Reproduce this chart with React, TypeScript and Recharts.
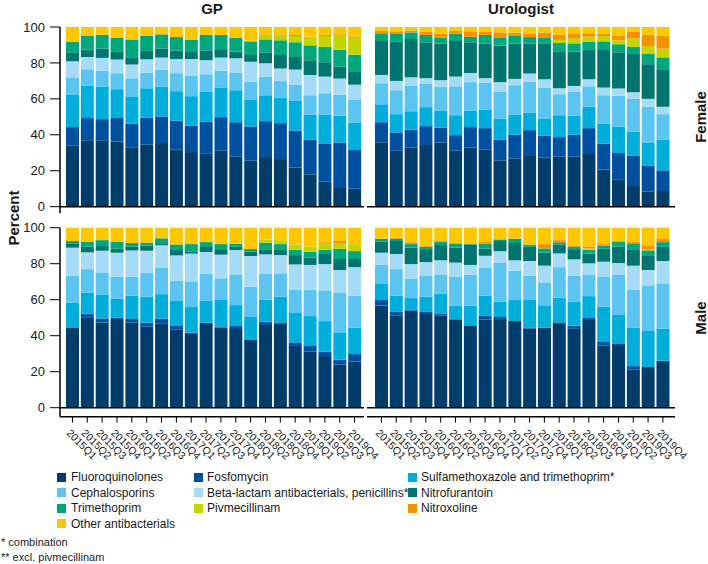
import React from "react";
import { Bar, BarChart, ReferenceLine, XAxis, YAxis } from "recharts";

// Antibiotic prescriptions per quarter, GP vs urologist, split by sex.
// Each panel is a 100% stacked bar per quarter.

const quarters = [
  "2015Q1", "2015Q2", "2015Q3", "2015Q4",
  "2016Q1", "2016Q2", "2016Q3", "2016Q4",
  "2017Q1", "2017Q2", "2017Q3", "2017Q4",
  "2018Q1", "2018Q2", "2018Q3", "2018Q4",
  "2019Q1", "2019Q2", "2019Q3", "2019Q4",
];

const seriesNames = [
  "Fluoroquinolones",
  "Fosfomycin",
  "Sulfamethoxazole and trimethoprim*",
  "Cephalosporins",
  "Beta-lactam antibacterials, penicillins**",
  "Nitrofurantoin",
  "Trimethoprim",
  "Pivmecillinam",
  "Nitroxoline",
  "Other antibacterials",
];

const seriesColors = [
  "#003d6b", "#0050a0", "#00aedb", "#5cc4f0", "#a6dbf7",
  "#00756f", "#00a77a", "#c5d300", "#f49200", "#ffc700",
];

// rows follow seriesNames order, columns follow quarters
const gpFemale = [
  [33.9, 36.9, 36.9, 36.3, 33.0, 34.6, 35.4, 31.9, 30.4, 29.4, 31.1, 27.8, 25.6, 27.6, 26.5, 21.7, 18.0, 13.9, 10.9, 10.0],
  [10.4, 12.4, 11.8, 13.0, 13.1, 15.0, 14.8, 15.9, 14.6, 17.8, 18.7, 19.2, 19.0, 20.0, 20.0, 20.7, 19.4, 21.3, 24.8, 21.5],
  [17.9, 17.9, 18.2, 16.1, 15.0, 16.3, 16.7, 16.5, 16.5, 16.7, 16.3, 17.8, 14.7, 14.4, 14.2, 16.5, 13.7, 16.1, 14.9, 15.4],
  [9.7, 9.3, 8.8, 8.9, 10.4, 8.7, 9.4, 10.0, 11.5, 9.8, 9.6, 9.6, 10.3, 10.2, 9.3, 8.9, 10.9, 11.8, 11.8, 12.5],
  [9.0, 6.8, 7.1, 7.6, 7.6, 7.4, 6.7, 7.9, 9.2, 7.8, 7.3, 8.2, 11.0, 7.6, 6.9, 8.5, 11.3, 9.3, 8.9, 8.5],
  [4.7, 4.1, 5.2, 4.6, 4.0, 4.7, 5.0, 4.7, 3.9, 5.5, 4.2, 3.7, 3.8, 6.1, 7.5, 7.0, 8.2, 8.0, 6.8, 7.5],
  [6.1, 7.6, 7.7, 7.6, 9.9, 8.3, 7.9, 7.5, 6.9, 8.6, 8.4, 7.8, 7.5, 7.2, 8.2, 8.2, 8.3, 8.5, 9.3, 9.2],
  [0, 0, 0, 0, 0, 0, 0, 0, 0, 0, 0, 0, 0, 2.5, 3.1, 3.5, 4.3, 6.1, 8.2, 10.0],
  [0, 0, 0, 0, 0, 0, 0, 0, 0, 0, 0, 0, 0.5, 0, 0.3, 0.6, 0.5, 0.6, 0.4, 0.6],
  [8.3, 5.0, 4.3, 5.9, 7.0, 5.0, 4.1, 5.6, 7.0, 4.4, 4.4, 5.9, 7.6, 4.4, 4.0, 4.4, 5.4, 4.4, 4.0, 4.8],
];

const uroFemale = [
  [35.9, 31.1, 32.8, 34.3, 35.7, 31.1, 33.0, 31.9, 25.7, 26.9, 28.7, 27.4, 27.8, 27.8, 29.3, 20.7, 15.2, 12.0, 8.3, 8.7],
  [11.1, 10.2, 10.0, 10.5, 8.2, 8.7, 11.3, 11.8, 11.7, 13.1, 13.9, 12.2, 10.9, 12.2, 14.4, 14.3, 14.6, 16.5, 14.5, 11.5],
  [10.0, 10.2, 10.3, 10.6, 9.4, 11.1, 9.2, 10.4, 11.5, 11.1, 9.8, 9.5, 12.2, 10.6, 11.9, 11.1, 14.8, 13.2, 12.9, 17.0],
  [11.7, 13.3, 14.1, 12.9, 13.4, 16.1, 15.8, 14.8, 15.2, 16.5, 17.2, 17.2, 11.7, 13.5, 11.4, 15.9, 17.1, 18.3, 19.9, 14.3],
  [4.6, 5.2, 4.8, 3.2, 3.7, 5.4, 5.1, 2.6, 5.2, 3.5, 4.5, 4.6, 3.3, 3.1, 3.9, 4.3, 4.0, 3.7, 4.4, 4.1],
  [18.9, 22.0, 21.3, 20.0, 20.3, 19.8, 17.1, 19.2, 20.3, 19.6, 16.6, 19.7, 20.6, 19.1, 16.7, 20.9, 20.2, 21.3, 19.3, 20.9],
  [4.3, 4.1, 3.7, 4.1, 3.4, 4.1, 3.1, 4.9, 4.3, 4.3, 3.7, 3.3, 4.6, 4.6, 4.1, 4.8, 4.5, 3.9, 5.9, 6.6],
  [0, 0, 0, 0, 0, 0, 0, 0, 0, 0, 0, 0, 1.7, 2.8, 2.9, 3.0, 2.2, 4.8, 4.2, 4.9],
  [1.3, 1.5, 1.1, 1.8, 2.2, 1.5, 3.0, 1.8, 3.1, 1.9, 1.7, 3.0, 2.8, 2.4, 1.9, 1.3, 2.4, 3.7, 6.2, 7.2],
  [2.2, 2.4, 1.9, 2.6, 3.7, 2.2, 2.4, 2.6, 3.0, 3.1, 3.9, 3.1, 4.4, 3.9, 3.5, 3.7, 5.0, 2.6, 4.4, 4.8],
];

const gpMale = [
  [44.4, 50.2, 47.4, 49.3, 47.4, 45.0, 46.9, 43.3, 41.3, 46.5, 44.6, 43.7, 37.8, 45.9, 46.9, 34.3, 31.1, 28.7, 23.9, 25.6],
  [0.3, 2.0, 2.2, 0.6, 1.9, 2.2, 2.5, 2.1, 0.4, 0.7, 0.6, 1.7, 0.2, 1.9, 0.5, 2.0, 3.2, 2.4, 2.8, 4.2],
  [13.6, 11.7, 13.0, 10.8, 12.9, 14.5, 13.7, 13.9, 14.2, 12.4, 15.0, 11.6, 12.4, 12.2, 14.3, 16.7, 16.6, 17.0, 15.2, 14.6],
  [15.0, 13.1, 12.6, 12.1, 10.6, 13.1, 14.5, 11.3, 14.3, 14.7, 11.7, 17.1, 16.8, 14.3, 12.6, 12.6, 14.7, 17.1, 22.2, 17.8],
  [15.6, 9.3, 12.0, 13.3, 14.6, 12.4, 12.6, 14.0, 15.4, 12.2, 13.1, 13.5, 17.1, 10.9, 10.5, 14.0, 13.7, 14.6, 12.4, 15.9],
  [2.4, 3.1, 2.6, 2.2, 2.0, 2.8, 0.7, 3.0, 1.3, 2.8, 3.1, 1.8, 2.4, 2.8, 2.8, 5.2, 4.0, 5.6, 6.1, 4.5],
  [1.3, 2.8, 3.3, 3.9, 2.1, 1.7, 3.2, 3.1, 4.0, 2.7, 2.8, 1.7, 1.4, 3.7, 3.3, 3.0, 3.4, 2.4, 5.7, 4.4],
  [0, 0, 0, 0, 0, 0, 0, 0, 0, 0, 0, 0, 0, 1.6, 2.2, 2.8, 2.9, 3.3, 3.2, 3.9],
  [0, 0, 0, 0, 0, 0, 0, 0, 0, 0, 0, 0, 0, 0, 0, 0, 0, 0.8, 1.1, 0],
  [7.4, 7.8, 6.9, 7.8, 8.5, 8.3, 5.9, 9.3, 9.1, 8.0, 9.1, 8.9, 11.9, 6.7, 6.9, 9.4, 10.4, 8.1, 7.4, 9.1],
];

const uroMale = [
  [56.7, 51.1, 53.9, 52.0, 51.1, 49.1, 45.4, 48.9, 48.7, 48.1, 43.9, 44.4, 46.5, 44.1, 48.7, 34.6, 34.8, 21.3, 22.6, 25.4],
  [3.1, 2.4, 0.7, 1.5, 1.3, 0, 0, 2.0, 1.7, 0, 0.7, 0, 0.9, 1.5, 1.1, 1.9, 0.6, 1.8, 0, 0.7],
  [9.3, 8.7, 6.3, 8.2, 10.9, 7.6, 11.3, 11.3, 8.5, 11.7, 15.6, 12.1, 13.7, 13.1, 12.2, 19.6, 16.1, 21.5, 20.0, 17.8],
  [10.2, 14.8, 10.6, 11.8, 10.8, 16.1, 17.2, 15.4, 21.5, 16.3, 13.1, 12.8, 17.0, 14.6, 11.7, 16.5, 22.2, 21.0, 25.0, 25.2],
  [6.8, 8.4, 8.3, 7.4, 7.8, 7.8, 5.4, 6.8, 6.5, 5.8, 8.2, 9.6, 7.6, 9.1, 6.5, 8.5, 6.7, 13.3, 8.9, 12.4],
  [6.1, 7.2, 9.1, 7.2, 8.5, 8.3, 11.4, 4.1, 5.7, 9.6, 7.9, 7.2, 5.0, 5.7, 5.5, 7.2, 9.2, 9.1, 7.8, 7.9],
  [1.7, 1.3, 2.0, 1.3, 1.8, 2.4, 0.4, 2.6, 0.9, 2.4, 1.2, 2.4, 1.2, 1.3, 2.1, 1.7, 2.6, 3.3, 3.1, 2.6],
  [0, 0, 0, 0, 0, 0, 0, 0, 0, 0, 0, 0, 0, 0, 0.7, 0, 0, 0, 0.4, 0],
  [0, 0.5, 1.0, 0.6, 0.8, 0, 0, 1.1, 0, 0, 0, 2.4, 1.2, 0.8, 0.9, 1.3, 0.4, 0.9, 2.4, 1.7],
  [6.1, 5.6, 8.1, 10.0, 7.0, 8.7, 8.9, 7.8, 6.5, 6.1, 9.4, 9.1, 6.9, 9.8, 10.6, 8.7, 7.4, 7.8, 9.8, 6.3],
];

const yTicks = [0, 20, 40, 60, 80, 100];

const font = '"Liberation Sans", Arial, sans-serif';
const seriesKeys = seriesNames.map((_, i) => `s${i}`);

function toRows(values: number[][]) {
  return quarters.map((q, i) => {
    const row: Record<string, string | number> = { quarter: q };
    seriesKeys.forEach((k, s) => {
      row[k] = values[s][i];
    });
    return row;
  });
}

const QuarterTick = (props: any) => {
  const { x, y, payload } = props;
  return (
    <text
      x={0}
      y={0}
      transform={`translate(${x - 6.5},${y + 9}) rotate(45)`}
      fontSize={10.5}
      fontFamily={font}
      fill="#1a1a1a"
      textAnchor="start"
    >
      {payload.value}
    </text>
  );
};

type PanelProps = {
  values: number[][];
  left: number;
  top: number;
  width: number;
  height: number;
  marginTop: number;
  marginBottom: number;
  marginRight: number;
  yMin: number;
  showY: boolean;
  showX: boolean;
  padLeft: number;
  padRight: number;
};

function Panel(p: PanelProps) {
  return (
    <div style={{ position: "absolute", left: p.left, top: p.top }}>
      <BarChart
        width={p.width}
        height={p.height}
        data={toRows(p.values)}
        margin={{ top: p.marginTop, right: p.marginRight, bottom: p.marginBottom, left: 0 }}
        barSize={13}
      >
        <XAxis
          dataKey="quarter"
          hide={!p.showX}
          interval={0}
          height={p.showX ? 53.3 : 0}
          padding={{ left: p.padLeft, right: p.padRight }}
          axisLine={{ stroke: "#000", strokeWidth: 1.5 }}
          tickLine={{ stroke: "#000" }}
          tickSize={6}
          tick={<QuarterTick />}
        />
        <YAxis
          hide={!p.showY}
          width={p.showY ? 60 : 0}
          type="number"
          domain={[p.yMin, 100]}
          ticks={yTicks}
          axisLine={{ stroke: "#000", strokeWidth: 1.5 }}
          tickLine={{ stroke: "#000" }}
          tickSize={10}
          tickMargin={5}
          tick={{ fontSize: 13, fill: "#1a1a1a", fontFamily: font }}
        />
        {seriesKeys.map((k, i) => (
          <Bar
            key={k}
            dataKey={k}
            name={seriesNames[i]}
            stackId="a"
            fill={seriesColors[i]}
            isAnimationActive={false}
          />
        ))}
        <ReferenceLine y={0} stroke="#000" strokeWidth={1.5} />
      </BarChart>
    </div>
  );
}

const legendColumns = [
  { square: 57, text: 71 },
  { square: 194, text: 207 },
  { square: 408, text: 421 },
];
const legendRows = [477, 492.5, 508, 523.5];

export default function App() {
  const label = (text: string, style: React.CSSProperties) => (
    <div
      style={{
        position: "absolute",
        fontFamily: font,
        fontWeight: "bold",
        fontSize: 15,
        color: "#1a1a1a",
        whiteSpace: "nowrap",
        ...style,
      }}
    >
      {text}
    </div>
  );

  return (
    <div
      style={{
        position: "absolute",
        left: 0,
        top: 0,
        width: 708,
        height: 564,
        background: "#fff",
        fontFamily: font,
      }}
    >
      <Panel values={gpFemale} left={0} top={0} width={400} height={220} marginTop={27} marginBottom={6.7} marginRight={36} yMin={-3.7} showY showX={false} padLeft={5} padRight={2} />
      <Panel values={uroFemale} left={367} top={0} width={340} height={220} marginTop={27} marginBottom={6.7} marginRight={32} yMin={-3.7} showY={false} showX={false} padLeft={7} padRight={4.7} />
      <Panel values={gpMale} left={0} top={200} width={400} height={270} marginTop={27.7} marginBottom={0} marginRight={36} yMin={-5} showY showX padLeft={5} padRight={2} />
      <Panel values={uroMale} left={367} top={200} width={340} height={270} marginTop={27.7} marginBottom={0} marginRight={32} yMin={-5} showY={false} showX padLeft={7} padRight={4.7} />

      {label("GP", { left: 212, top: 0, transform: "translateX(-50%)" })}
      {label("Urologist", { left: 521, top: 0, transform: "translateX(-50%)" })}
      {label("Percent", { left: 13, top: 218, transform: "translate(-50%, -50%) rotate(-90deg)" })}
      {label("Female", { left: 700, top: 117, transform: "translate(-50%, -50%) rotate(-90deg)" })}
      {label("Male", { left: 700, top: 318, transform: "translate(-50%, -50%) rotate(-90deg)" })}

      {seriesNames.map((name, i) => {
        const col = legendColumns[i % 3];
        const rowY = legendRows[Math.floor(i / 3)];
        return (
          <React.Fragment key={name}>
            <div
              style={{
                position: "absolute",
                left: col.square,
                top: rowY - 4.5,
                width: 9,
                height: 9,
                background: seriesColors[i],
              }}
            />
            <div
              style={{
                position: "absolute",
                left: col.text,
                top: rowY - 8,
                fontSize: 12,
                lineHeight: "16px",
                color: "#1a1a1a",
                whiteSpace: "nowrap",
              }}
            >
              {name}
            </div>
          </React.Fragment>
        );
      })}

      <div style={{ position: "absolute", left: 1, top: 535, fontSize: 11, lineHeight: "14px", color: "#1a1a1a" }}>
        * combination
      </div>
      <div style={{ position: "absolute", left: 1, top: 550, fontSize: 11, lineHeight: "14px", color: "#1a1a1a" }}>
        ** excl. pivmecillinam
      </div>
    </div>
  );
}
